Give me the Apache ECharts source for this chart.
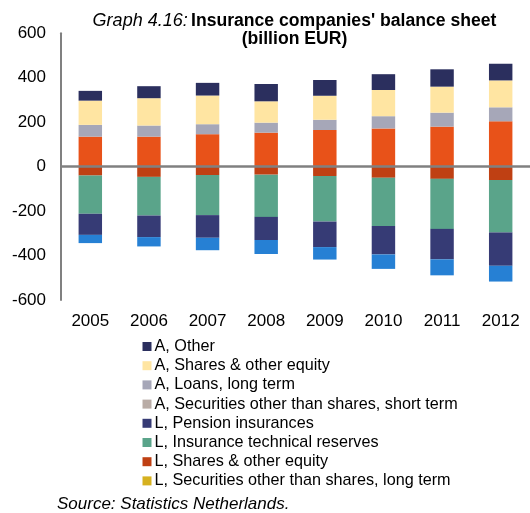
<!DOCTYPE html>
<html>
<head>
<meta charset="utf-8">
<script src="https://cdn.jsdelivr.net/npm/echarts@6/dist/echarts.min.js"></script>
<style>html,body{margin:0;padding:0;background:#fff;}#c{width:530px;height:513px;}</style>
</head>
<body>
<div id="c"></div>
<script>
var years = ['2005','2006','2007','2008','2009','2010','2011','2012'];
var yTicks = [-600, -400, -200, 0, 200, 400, 600];

// Assets (positive)
var aSecuritiesLong  = [135, 135, 146, 153, 165, 172, 180, 204];
var aSecuritiesShort = [0, 0, 0, 0, 0, 0, 0, 0];
var aLoans           = [53, 50, 45, 45, 46, 55, 63, 63];
var aShares          = [109, 123, 129, 96, 108, 118, 117, 121];
var aOther           = [44, 54, 57, 78, 71, 71, 78, 75];

// Liabilities (negative)
var lShares          = [-40, -46, -38, -36, -42, -50, -55, -60];
var lInsurance       = [-172, -174, -180, -190, -205, -217, -225, -236];
var lPension         = [-95, -97, -102, -104, -115, -128, -137, -150];
var lOther           = [-37, -42, -56, -63, -56, -65, -72, -71];
var lSecuritiesLong  = [0, 0, 0, 0, 0, 0, 0, 0];

var legendNames = ['A, Other', 'A, Shares & other equity', 'A, Loans, long term',
  'A, Securities other than shares, short term', 'L, Pension insurances',
  'L, Insurance technical reserves', 'L, Shares & other equity',
  'L, Securities other than shares, long term'];

var FONT = 'Liberation Sans, Arial, sans-serif';

function bar(name, data, color, extra) {
  var s = {
    name: name, type: 'bar', stack: 'bs', data: data, barWidth: '40%',
    itemStyle: { color: color },
    emphasis: { disabled: true }
  };
  if (extra) for (var k in extra) s[k] = extra[k];
  return s;
}

var chart = echarts.init(document.getElementById('c'), null, { renderer: 'canvas' });
chart.setOption({
  animation: false,
  grid: { left: 61, top: 33.3, bottom: 213, right: -11.4, containLabel: false },
  legend: {
    data: legendNames, orient: 'vertical', left: 142.5, top: 338.5,
    padding: 0, itemWidth: 9, itemHeight: 9, itemGap: 3.2,
    icon: 'rect', selectedMode: false,
    textStyle: { fontFamily: FONT, fontSize: 16.2, color: '#000', padding: [0, 0, 0, -2] }
  },
  xAxis: {
    type: 'category', data: years, position: 'bottom',
    axisLine: { show: false, onZero: false }, axisTick: { show: false },
    axisLabel: { fontFamily: FONT, fontSize: 17, color: '#000', margin: 13 }
  },
  yAxis: {
    type: 'value', min: yTicks[0], max: yTicks[yTicks.length - 1], interval: 200,
    splitLine: { show: false }, axisTick: { show: false },
    axisLine: { show: true, lineStyle: { color: '#808080', width: 2 } },
    axisLabel: { fontFamily: FONT, fontSize: 17, color: '#000', margin: 15 }
  },
  series: [
    bar('A, Securities other than shares, long term', aSecuritiesLong, '#e85219'),
    bar('A, Securities other than shares, short term', aSecuritiesShort, '#b9aca6'),
    bar('A, Loans, long term', aLoans, '#a6a7b8'),
    bar('A, Shares & other equity', aShares, '#ffe5a2'),
    bar('A, Other', aOther, '#2b2f5e'),
    bar('L, Shares & other equity', lShares, '#bf4013'),
    bar('L, Insurance technical reserves', lInsurance, '#5aa48a'),
    bar('L, Pension insurances', lPension, '#363b75'),
    bar('L, Other', lOther, '#2680d4'),
    bar('L, Securities other than shares, long term', lSecuritiesLong, '#d6b11f', {
      markLine: {
        silent: true, symbol: ['none', 'none'], z: 10,
        label: { show: false },
        lineStyle: { color: '#808080', width: 2.5, type: 'solid' },
        data: [{ yAxis: 0 }]
      }
    })
  ],
  graphic: [
    {
      type: 'text', x: 294.5, y: 21,
      style: {
        text: '{i|Graph 4.16:} {b|Insurance companies\' balance sheet}',
        align: 'center', verticalAlign: 'middle',
        rich: {
          i: { fontFamily: FONT, fontSize: 18, fontStyle: 'italic', fill: '#000' },
          b: { fontFamily: FONT, fontSize: 17.6, fontWeight: 'bold', fill: '#000' }
        }
      }
    },
    {
      type: 'text', x: 294.5, y: 39,
      style: { text: '(billion EUR)', align: 'center', verticalAlign: 'middle',
        fontFamily: FONT, fontSize: 17.6, fontWeight: 'bold', fill: '#000' }
    },
    {
      type: 'text', x: 57, y: 504,
      style: { text: 'Source: Statistics Netherlands.', verticalAlign: 'middle',
        fontFamily: FONT, fontSize: 17, fontStyle: 'italic', fill: '#000' }
    }
  ]
});
</script>
</body>
</html>
